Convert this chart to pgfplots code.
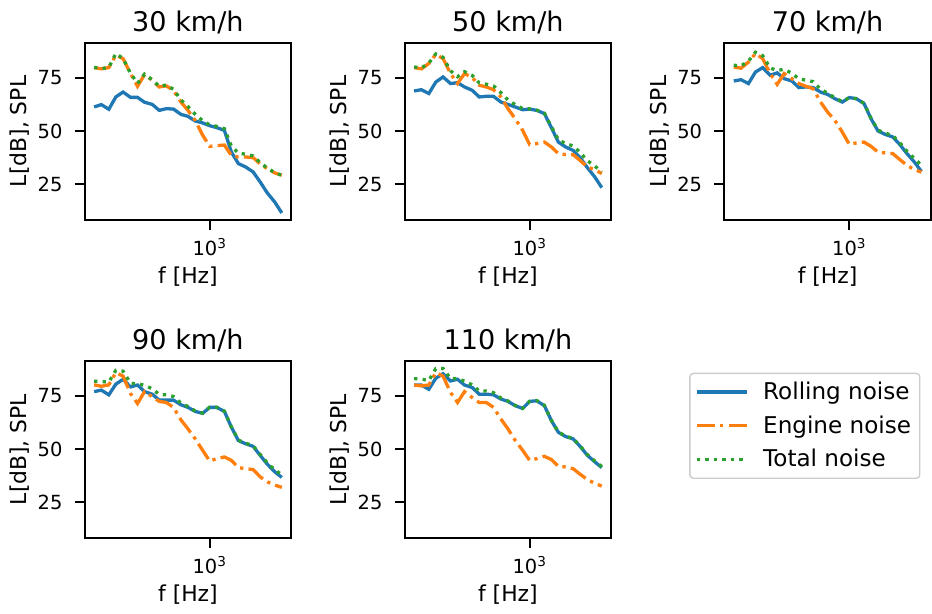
\documentclass[border=0pt]{standalone}
\usepackage{pgfplots}
\pgfplotsset{compat=1.18}
\usepackage{pgfplotstable}
\usepackage{fontspec}
\setmainfont{DejaVu Sans}
\definecolor{tabblue}{HTML}{1F77B4}
\definecolor{taborange}{HTML}{FF7F0E}
\definecolor{tabgreen}{HTML}{2CA02C}

% 1/3-octave bands, columns: f, rolling, engine, total
\pgfplotstableread{
f     R    E    T
25    61.3 79.8 79.9
31.5  62.4 79.2 79.3
40    60.2 79.8 79.9
50    66.0 85.6 86.4
63    68.3 84.0 84.1
80    65.8 77.0 77.1
100   65.8 71.0 72.4
125   63.5 76.5 76.7
160   62.5 73.8 74.1
200   59.7 70.7 71.0
250   60.5 71.2 71.6
315   60.3 69.1 69.6
400   57.8 63.6 64.6
500   56.9 59.7 61.5
630   54.7 55.0 57.9
800   53.8 48.0 54.8
1000  52.5 42.8 52.9
1250  51.6 43.1 52.2
1600  50.3 43.4 51.1
2000  40.1 38.5 42.9
2500  34.7 37.8 39.6
3150  33.1 37.8 39.1
4000  30.8 37.5 38.3
5000  26.1 34.6 35.2
6300  20.9 32.3 32.6
8000  16.6 30.3 30.4
10000 11.5 29.2 29.2
}\dataA
\pgfplotstableread{
f     R    E    T
25    68.8 79.8 80.1
31.5  69.4 79.2 79.6
40    67.6 81.7 81.9
50    73.0 86.0 86.2
63    75.4 84.0 84.6
80    72.3 77.0 78.3
100   72.7 72.3 75.5
125   70.7 77.0 77.9
160   69.1 75.1 76.1
200   66.0 71.5 72.6
250   66.3 70.7 72.0
315   66.3 69.4 71.2
400   63.6 66.0 68.0
500   62.5 60.5 64.6
630   61.3 55.8 62.4
800   60.0 50.3 60.5
1000  60.3 43.6 60.4
1250  59.7 44.1 59.8
1600  58.2 44.8 58.4
2000  51.6 42.5 52.1
2500  44.8 39.4 45.9
3150  42.5 38.9 44.1
4000  40.9 38.9 43.0
5000  37.5 36.2 39.9
6300  32.8 33.1 36.1
8000  28.4 31.8 33.5
10000 23.4 30.0 30.8
}\dataB
\pgfplotstableread{
f     R    E    T
25    73.5 80.1 80.9
31.5  74.1 79.5 80.6
40    72.3 82.4 82.8
50    77.7 86.4 87.0
63    79.8 84.0 85.4
80    76.2 77.0 79.6
100   77.3 71.9 78.4
125   74.6 77.0 79.0
160   73.5 74.6 77.1
200   70.4 72.3 74.5
250   70.7 71.0 73.9
315   70.4 69.9 73.2
400   68.3 63.6 69.6
500   67.2 58.9 67.8
630   65.2 55.0 65.6
800   63.6 49.5 63.8
1000  65.7 43.7 65.7
1250  65.2 44.4 65.2
1600  62.9 44.8 63.0
2000  55.8 42.8 56.0
2500  50.0 40.1 50.4
3150  48.4 39.7 49.0
4000  47.2 39.4 47.9
5000  43.7 36.6 44.5
6300  39.4 33.9 40.5
8000  35.4 31.8 37.0
10000 31.0 30.7 33.9
}\dataC
\pgfplotstableread{
f     R    E    T
25    77.0 80.2 81.9
31.5  77.7 79.5 81.7
40    75.5 80.2 81.5
50    80.5 85.9 87.0
63    82.8 84.3 86.6
80    79.2 76.1 80.9
100   80.1 71.4 80.7
125   77.0 77.0 80.0
160   75.8 74.6 78.3
200   73.0 72.4 75.7
250   73.0 71.9 75.5
315   73.0 69.6 74.7
400   70.8 63.7 71.6
500   69.6 59.5 70.0
630   67.7 54.8 67.9
800   66.8 49.4 66.9
1000  69.6 44.4 69.7
1250  69.6 45.5 69.7
1600  67.7 46.3 67.8
2000  60.3 44.7 60.4
2500  54.0 41.3 54.2
3150  52.5 40.8 52.8
4000  51.3 40.4 51.6
5000  47.1 37.0 47.5
6300  42.9 34.6 43.5
8000  39.3 33.1 40.2
10000 36.7 32.0 38.0
}\dataD
\pgfplotstableread{
f     R    E    T
25    80.1 80.1 83.1
31.5  80.1 79.7 82.9
40    78.1 80.1 82.2
50    83.3 85.9 87.8
63    85.4 84.3 87.9
80    82.0 76.6 83.1
100   82.8 71.9 83.1
125   80.1 77.0 81.9
160   78.9 74.2 80.2
200   75.8 71.9 77.3
250   75.8 71.9 77.3
315   75.5 69.6 76.5
400   73.5 64.1 74.0
500   72.4 59.5 72.6
630   70.4 54.1 70.5
800   69.1 49.4 69.1
1000  72.4 44.7 72.4
1250  72.7 45.5 72.8
1600  70.4 46.6 70.5
2000  63.4 45.1 63.5
2500  57.9 41.9 58.0
3150  55.9 41.6 56.1
4000  54.8 40.8 55.0
5000  51.3 38.2 51.5
6300  47.1 35.7 47.4
8000  44.0 33.9 44.4
10000 41.3 32.6 41.8
}\dataE

\pgfplotsset{
  spl/.style={
    scale only axis, width=118.9pt, height=102pt, anchor=south west,
    xmin=18.53, xmax=13490, ymin=8.2, ymax=91.4,
    xtick={1000}, xticklabels={10\textsuperscript{3}}, xminorticks=false,
    ytick={25,50,75},
    tick align=outside, major tick length=5.8pt, tick pos=left,
    axis line style={line width=1pt},
    every tick/.style={line width=1pt,black},
    /pgf/number format/assume math mode=true,
    tick label style={font=\fontsize{11.2}{12}\selectfont},
    yticklabel style={xshift=-3.5pt},
    xticklabel style={yshift=-1.5pt},
    xlabel={f [Hz]}, ylabel={L[dB], SPL},
    label style={font=\fontsize{12.6}{14}\selectfont},
    every axis title shift=0pt,
    title style={font=\fontsize{15.6}{18}\selectfont,at={(axis description cs:0.5,1.0657)},anchor=base},
    xlabel style={at={(axis description cs:0.5,-0.358)},anchor=base},
    ylabel style={at={(axis description cs:-0.2826,0.5)},anchor=base},
    legend image code/.code={\draw[##1] (0pt,0pt) -- (28.8pt,0pt);},
  },
  roll/.style={tabblue,line width=1.9pt},
  eng/.style={taborange,line width=1.9pt,dash pattern=on 10.5pt off 3pt on 1.9pt off 3pt},
  tot/.style={tabgreen,line width=1.9pt,dash pattern=on 1.9pt off 3pt},
}

\begin{document}
\begin{tikzpicture}
\useasboundingbox (-48.8pt,-43.2pt) rectangle (488.0pt,309.9pt);

\begin{semilogxaxis}[spl, at={(0pt,183.2pt)}, title={30 km/h}]
\addplot[roll] table[x=f,y=R] {\dataA};
\addplot[eng] table[x=f,y=E] {\dataA};
\addplot[tot] table[x=f,y=T] {\dataA};
\end{semilogxaxis}

\begin{semilogxaxis}[spl, at={(184.3pt,183.2pt)}, title={50 km/h}]
\addplot[roll] table[x=f,y=R] {\dataB};
\addplot[eng] table[x=f,y=E] {\dataB};
\addplot[tot] table[x=f,y=T] {\dataB};
\end{semilogxaxis}

\begin{semilogxaxis}[spl, at={(368.4pt,183.2pt)}, title={70 km/h}]
\addplot[roll] table[x=f,y=R] {\dataC};
\addplot[eng] table[x=f,y=E] {\dataC};
\addplot[tot] table[x=f,y=T] {\dataC};
\end{semilogxaxis}

\begin{semilogxaxis}[spl, at={(0pt,0pt)}, title={90 km/h}]
\addplot[roll] table[x=f,y=R] {\dataD};
\addplot[eng] table[x=f,y=E] {\dataD};
\addplot[tot] table[x=f,y=T] {\dataD};
\end{semilogxaxis}

\begin{semilogxaxis}[spl, at={(184.3pt,0pt)}, title={110 km/h},
  legend style={at={(axis description cs:1.378,0.934)}, anchor=north west,
    draw=black!20, rounded corners=2pt, line width=0.8pt,
    font=\fontsize{13.3}{15}\selectfont, inner sep=3pt, row sep=3.8pt,
    column sep=6.5pt, nodes={inner sep=2pt}},
  legend cell align=left]
\addplot[roll] table[x=f,y=R] {\dataE};
\addlegendentry{Rolling noise}
\addplot[eng] table[x=f,y=E] {\dataE};
\addlegendentry{Engine noise}
\addplot[tot] table[x=f,y=T] {\dataE};
\addlegendentry{Total noise}
\end{semilogxaxis}
\end{tikzpicture}
\end{document}
